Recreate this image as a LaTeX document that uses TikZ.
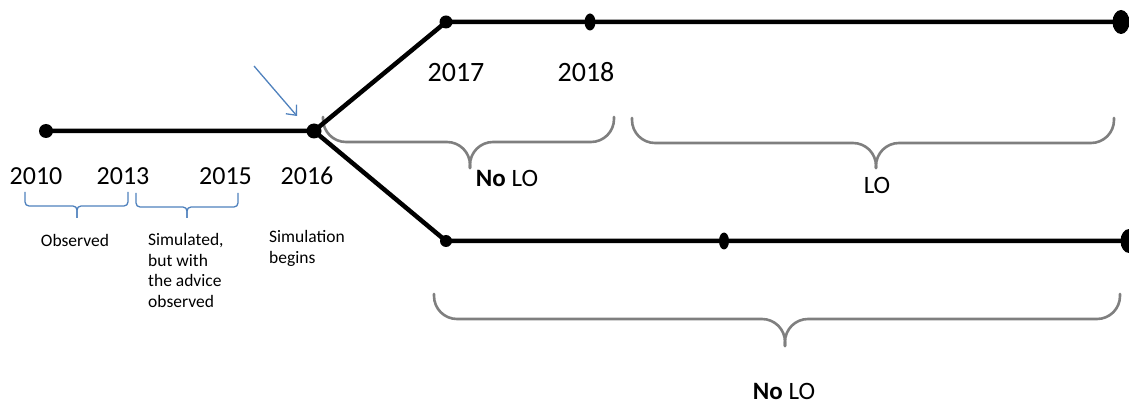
\documentclass[tikz,border=0pt]{standalone}
\usepackage{fontspec}
\setmainfont{Carlito}
\usetikzlibrary{arrows.meta,shapes.geometric}
\definecolor{tlblue}{HTML}{4F81BD}
\definecolor{tlgray}{HTML}{7F7F7F}
\tikzset{
  track/.style={line width=4.5pt, black, line join=round},
  dotnode/.style={circle, fill=black, inner sep=0pt, minimum size=#1},
  oval/.style 2 args={ellipse, fill=black, inner sep=0pt, minimum width=#1, minimum height=#2},
  year/.style={font=\fontsize{26}{31}\selectfont, anchor=base, inner sep=0pt},
  bigyear/.style={font=\fontsize{28}{34}\selectfont, anchor=base, inner sep=0pt},
  note/.style={font=\fontsize{17.5}{20.7}\selectfont, align=left, inner sep=0pt},
  phase/.style={font=\fontsize{25}{30}\selectfont, anchor=base, inner sep=0pt},
  graybrace/.style={draw=tlgray, line width=2.6pt, rounded corners=23pt, line cap=round},
  bluebrace/.style={draw=tlblue, line width=1.3pt, rounded corners=4pt},
  pointer/.style={draw=tlblue, line width=1.3pt, -{Straight Barb[length=8pt,width=14pt]}}
}
% curly brace opening upwards: style, left, right, top, middle, bottom, tip x
\newcommand{\curlybrace}[7]{%
  \draw[#1] (#2,#4) -- (#2,#5) -- (#7,#5) -- (#7,#6);
  \draw[#1] (#3,#4) -- (#3,#5) -- (#7,#5) -- (#7,#6);}
\begin{document}
\begin{tikzpicture}[x=1pt, y=-1pt]
\useasboundingbox (0,0) rectangle (1129,403);

% braces
\curlybrace{bluebrace}{25}{128}{192}{206}{218}{77}
\curlybrace{bluebrace}{136}{238}{193}{207}{218}{187}
\curlybrace{graybrace}{323}{614}{117}{142}{168}{470}
\curlybrace{graybrace}{632}{1114}{118}{143}{168}{876}
\curlybrace{graybrace}{434}{1120}{294}{319}{346}{785}

% timeline points
\node[dotnode=14pt] (d2010) at (46,131) {};
\node[dotnode=15pt] (d2016) at (314,131) {};
\node[dotnode=13pt] (up0) at (446,22) {};
\node[oval={11pt}{17pt}] (up1) at (590,22) {};
\node[oval={17pt}{24pt}] (up2) at (1121,22) {};
\node[dotnode=12pt] (lo0) at (446,241) {};
\node[oval={10pt}{17pt}] (lo1) at (724,241) {};
\node[oval={17pt}{24pt}] (lo2) at (1129,241) {};

% timelines
\draw[track] (d2010.center) -- (d2016.center) -- (up0.center) -- (up1.center) -- (up2.center);
\draw[track] (d2016.center) -- (lo0.center) -- (lo1.center) -- (lo2.center);

% pointer to the branching point
\coordinate (ptail) at (254,66);
\coordinate (phead) at (297,116);
\draw[pointer] (ptail) -- (phead);

% years
\node[year] (t2010) at (36,185) {2010};
\node[year] (t2013) at (123,185) {2013};
\node[year] (t2015) at (225.5,185) {2015};
\node[year] (t2016) at (307,185) {2016};
\node[bigyear] (t2017) at (456,82) {2017};
\node[bigyear] (t2018) at (586,82) {2018};

% notes
\node[note, anchor=base] (obs) at (75,247) {Observed};
\node[note, anchor=north west] (simadv) at (148,233) {Simulated,\\but with\\the advice\\observed};
\node[note, anchor=north west] (simbeg) at (269,230) {Simulation\\begins};

% phases
\node[phase] (nolo1) at (507,187) {\textbf{No} LO};
\node[phase] (lo) at (877,194) {LO};
\node[phase] (nolo2) at (784,399) {\textbf{No} LO};
\end{tikzpicture}
\end{document}
